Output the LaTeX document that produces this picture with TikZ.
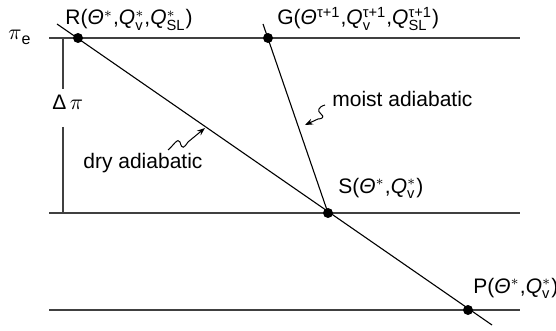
\documentclass[tikz,border=0pt]{standalone}
\usepackage{amsmath}
\usepackage{fontspec}
\setmainfont{Liberation Sans}
\usepackage{tikz}
\tikzset{
  level/.style={draw=black!75, line width=0.65pt},
  adiab/.style={draw=black, line width=0.55pt},
  label/.style={inner sep=0pt, anchor=base west, font=\fontsize{10.5}{12}\selectfont},
  pointer/.style={-{Stealth[length=4pt, width=3pt]}, line width=0.5pt}
}
\usetikzlibrary{positioning, arrows.meta, calc}

\newcommand{\Th}{\textit{Θ}}
\newcommand{\Qq}{\textit{Q}}

\begin{document}
\begin{tikzpicture}[x=0.5pt, y=-0.5pt,
    point/.style={circle, fill=black, minimum size=5pt, inner sep=0pt}
]
\useasboundingbox (0,0) rectangle (556,331);
% levels
\coordinate (l0) at (49,38);
\coordinate (r0) at (520,38);
\coordinate (l1) at (49,213);
\coordinate (r1) at (520,213);
\coordinate (l2) at (49,310);
\coordinate (r2) at (520,310);
\draw[level] (l0) -- (r0);
\draw[level] (l1) -- (r1);
\draw[level] (l2) -- (r2);
% points
\coordinate (R) at (78,38);
\coordinate (G) at (268,38);
\coordinate (S) at (328,213);
\coordinate (P) at (468,310);
\coordinate (dryA) at (57,24);
\coordinate (dryB) at (492,325);
\coordinate (moiA) at (263,24);
\draw[adiab] (dryA) -- (dryB);
\draw[adiab] (moiA) -- (S);
\foreach \p in {R,G,S,P}
    \node[point] at (\p) {};
% delta pi
\coordinate (d0) at (63,38);
\coordinate (d1) at (63,89);
\coordinate (d2) at (63,127);
\coordinate (d3) at (63,213);
\draw[level] (d0) -- (d1);
\draw[level] (d2) -- (d3);
\node[label] (dpi) at (52,110) {Δ\,$\pi$};
\node[label] (pie) at (8,40) {$\pi$\raisebox{-0.45ex}{\footnotesize e}};
% labels
\node[label] (Rl) at (65,25) {R(\Th$^*$,\Qq$^*_{\text{v}}$,\Qq$^*_{\text{SL}}$)};
\node[label] (Gl) at (277,25) {G(\Th$^{\text{τ+1}}$,\Qq$^{\text{τ+1}}_{\text{v}}$,\Qq$^{\text{τ+1}}_{\text{SL}}$)};
\node[label] (Sl) at (338,193) {S(\Th$^*$,\Qq$^*_{\text{v}}$)};
\node[label] (Pl) at (473,293) {P(\Th$^*$,\Qq$^*_{\text{v}}$)};
\node[label] (moist) at (332,107) {moist adiabatic};
\node[label] (dry) at (83,169) {dry adiabatic};
% pointers
\coordinate (dryT) at (205,128);
\coordinate (moiT) at (305,125);
\draw[pointer] (168,150) .. controls (173,146) and (178,137) .. (180,142)
    .. controls (182,150) and (184,148) .. (188,142) -- (dryT);
\draw[pointer] (325,105) .. controls (318,107) and (317,111) .. (321,114)
    .. controls (325,117) and (322,119) .. (318,119) -- (moiT);
\end{tikzpicture}
\end{document}
